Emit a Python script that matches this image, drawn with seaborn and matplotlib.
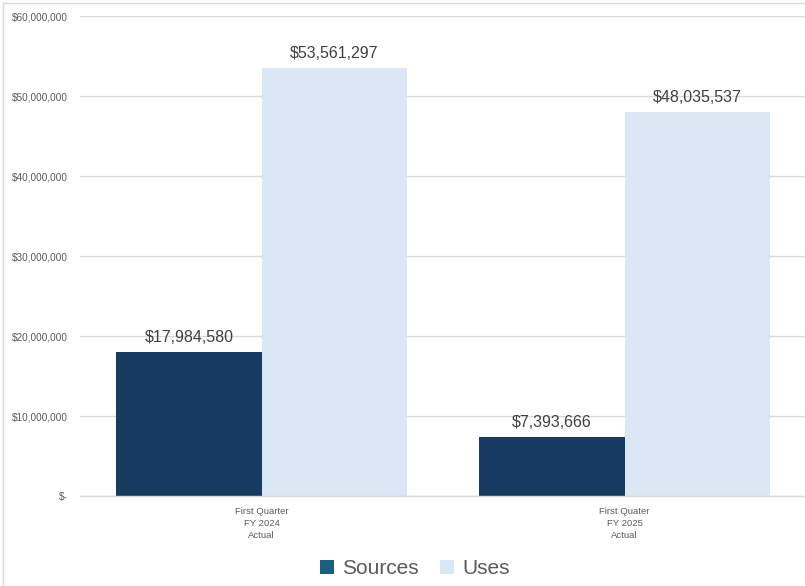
import matplotlib
matplotlib.use("Agg")
import matplotlib.pyplot as plt
import seaborn as sns
import pandas as pd
from matplotlib.patches import Patch
from matplotlib.lines import Line2D
from matplotlib import font_manager

categories = ["First Quarter\nFY 2024\nActual", "First Quater\nFY 2025\nActual"]
series_names = ["Sources", "Uses"]
sources = [17984580, 7393666]
uses = [53561297, 48035537]
y_ticks = [0, 10000000, 20000000, 30000000, 40000000, 50000000, 60000000]
y_tick_labels = ["$-", "$10,000,000", "$20,000,000", "$30,000,000", "$40,000,000", "$50,000,000", "$60,000,000"]

df = pd.DataFrame({
    "category": categories * 2,
    "series": [series_names[0]] * 2 + [series_names[1]] * 2,
    "value": sources + uses,
})

sns.set_theme(style="white")
plt.rcParams["font.family"] = ["Liberation Sans", "DejaVu Sans"]

names = {f.name for f in font_manager.fontManager.ttflist}
narrow = "Liberation Sans Narrow" if "Liberation Sans Narrow" in names else "Liberation Sans"

bar_colors = {"Sources": "#183b61", "Uses": "#dae7f5"}
legend_colors = {"Sources": "#1a5f80", "Uses": "#dae7f5"}

fig = plt.figure(figsize=(8.05, 5.86), dpi=100)
ax = fig.add_axes([80 / 805, 90 / 586, 726 / 805, 480 / 586])

sns.barplot(data=df, x="category", y="value", hue="series", palette=bar_colors,
            width=0.8, ax=ax, legend=False, saturation=1)

for container in ax.containers:
    for p in container:
        p.set_edgecolor("none")
        p.set_linewidth(0)
    labels = [f"${v:,.0f}" for v in container.datavalues]
    ax.bar_label(container, labels=labels, padding=5, fontsize=11.5, color="#404040")

ax.set_xlim(-0.5, 1.5)
ax.set_ylim(0, 60000000)
ax.set_yticks(y_ticks)
ax.set_yticklabels(y_tick_labels, fontsize=7.2, color="#595959")
ax.tick_params(axis="y", length=0, pad=8.5)
ax.tick_params(axis="x", length=0, pad=8)
for lbl in ax.get_xticklabels():
    lbl.set_fontsize(6.8)
    lbl.set_color("#595959")
    lbl.set_family([narrow, "DejaVu Sans"])
    lbl.set_linespacing(1.45)
ax.set_xlabel("")
ax.set_ylabel("")
ax.yaxis.grid(True, color="#d9d9d9", linewidth=1)
ax.set_axisbelow(True)
for s in ["top", "right", "left"]:
    ax.spines[s].set_visible(False)
ax.spines["bottom"].set_color("#d9d9d9")
ax.spines["bottom"].set_linewidth(1)

handles = [Patch(facecolor=legend_colors[n], edgecolor="none", label=n) for n in series_names]
fig.legend(handles=handles, loc="center", bbox_to_anchor=(415 / 805, 1 - 569 / 586),
           ncol=2, frameon=False, fontsize=15, labelcolor="#595959",
           handlelength=0.68, handleheight=0.68, handletextpad=0.4, columnspacing=1.0)

# outer border (left and top)
fig.add_artist(Line2D([3.0 / 805, 3.0 / 805], [0, 1 - 3.0 / 586], transform=fig.transFigure,
                      color="#d9d9d9", linewidth=1))
fig.add_artist(Line2D([3.0 / 805, 1], [1 - 3.0 / 586, 1 - 3.0 / 586], transform=fig.transFigure,
                      color="#d9d9d9", linewidth=1))

fig.savefig("out.png", dpi=100)
